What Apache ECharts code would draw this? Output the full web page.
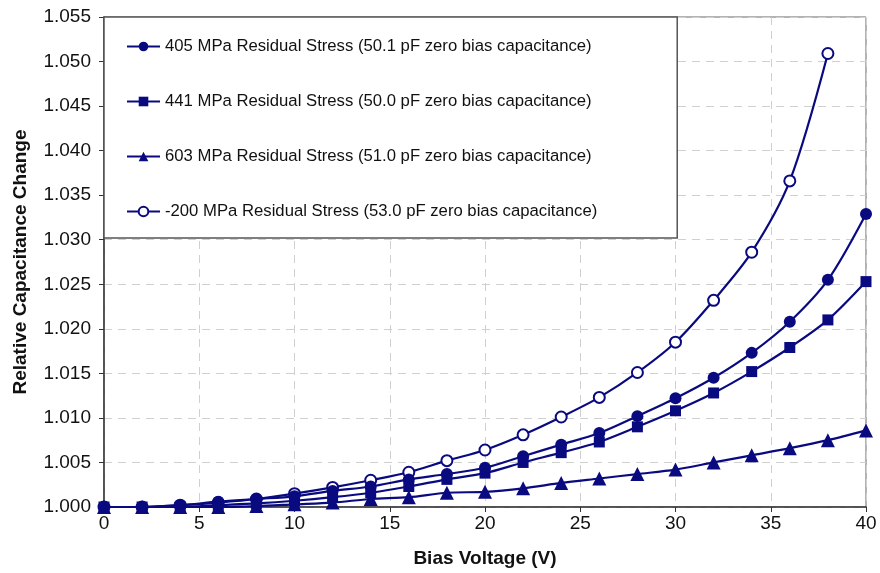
<!DOCTYPE html>
<html>
<head>
<meta charset="utf-8">
<script src="https://cdn.jsdelivr.net/npm/echarts@6/dist/echarts.min.js"></script>
<style>
  html, body { margin: 0; padding: 0; background: #fff; }
  #chart { width: 880px; height: 573px; }
</style>
</head>
<body>
<div id="chart"></div>
<script>
// bias voltage (V)
const voltage = [0, 2, 4, 6, 8, 10, 12, 14, 16, 18, 20, 22, 24, 26, 28, 30, 32, 34, 36, 38, 40]

// relative capacitance change per film
const s405 = [1.0000, 1.0000, 1.0002, 1.0006, 1.0009, 1.0012, 1.0018, 1.0023, 1.0031, 1.0037, 1.0044,
  1.0057, 1.0070, 1.0083, 1.0102, 1.0122, 1.0145, 1.0173, 1.0208, 1.0255, 1.0329]
const s441 = [1.0000, 1.0000, 1.0000, 1.0002, 1.0004, 1.0007, 1.0011, 1.0016, 1.0023, 1.0031, 1.0038,
  1.0050, 1.0061, 1.0073, 1.0090, 1.0108, 1.0128, 1.0152, 1.0179, 1.0210, 1.0253]
const s603 = [1.0000, 1.0000, 1.0000, 1.0000, 1.0001, 1.0003, 1.0005, 1.0009, 1.0011, 1.0016, 1.0017,
  1.0021, 1.0027, 1.0032, 1.0037, 1.0042, 1.0050, 1.0058, 1.0066, 1.0075, 1.0086]
const sNeg200 = [1.0000, 1.0000, 1.0002, 1.0005, 1.0009, 1.0015, 1.0022, 1.0030, 1.0039, 1.0052, 1.0064,
  1.0081, 1.0101, 1.0123, 1.0151, 1.0185, 1.0232, 1.0286, 1.0366, 1.0509]

const names = [
  '405 MPa Residual Stress (50.1 pF zero bias capacitance)',
  '441 MPa Residual Stress (50.0 pF zero bias capacitance)',
  '603 MPa Residual Stress (51.0 pF zero bias capacitance)',
  '-200 MPa Residual Stress (53.0 pF zero bias capacitance)'
]

const navy = '#0a0a80'
const font = '"Liberation Sans", Arial, sans-serif'

const pairs = (ys) => ys.map((y, i) => [voltage[i], y])

const mkSeries = (name, ys, symbol, size, z) => ({
  name: name,
  type: 'line',
  data: pairs(ys),
  smooth: 0.3,
  symbol: symbol,
  symbolSize: size,
  z: z,
  lineStyle: { color: navy, width: 2.2 },
  itemStyle: { color: navy, borderWidth: 1.5 },
  emphasis: { disabled: true }
})

const chart = echarts.init(document.getElementById('chart'))

const option = {
  backgroundColor: '#fff',
  animation: false,
  textStyle: { fontFamily: font },
  grid: {
    left: 104,
    right: 14,
    top: 17,
    bottom: 65,
    show: true,
    borderColor: '#666',
    borderWidth: 1
  },
  legend: {
    orient: 'vertical',
    left: 104,
    top: 17,
    z: 10,
    padding: [21, 80, 18, 22],
    itemGap: 38,
    itemWidth: 33,
    itemHeight: 12,
    backgroundColor: '#fff',
    borderColor: '#555',
    borderWidth: 1.5,
    textStyle: { fontSize: 16.7, color: '#111', fontFamily: font },
    data: names
  },
  xAxis: {
    type: 'value',
    min: 0,
    max: 40,
    interval: 5,
    name: 'Bias Voltage (V)',
    nameLocation: 'middle',
    nameGap: 42,
    nameTextStyle: { fontSize: 19, fontWeight: 'bold', color: '#111', fontFamily: font },
    axisLine: { lineStyle: { color: '#333', width: 1.5 } },
    axisTick: { show: true, length: 5, lineStyle: { color: '#333' } },
    axisLabel: { fontSize: 19, color: '#111', margin: 7 },
    splitLine: { show: true, lineStyle: { color: '#d0d0d0', type: [8, 6], width: 1 } }
  },
  yAxis: {
    type: 'value',
    min: 1,
    max: 1.055,
    interval: 0.005,
    name: 'Relative Capacitance Change',
    nameLocation: 'middle',
    nameGap: 74,
    nameTextStyle: { fontSize: 19, fontWeight: 'bold', color: '#111', fontFamily: font },
    axisLine: { show: true, lineStyle: { color: '#333', width: 1.5 } },
    axisTick: { show: true, length: 5, lineStyle: { color: '#333' } },
    axisLabel: { fontSize: 19, color: '#111', margin: 13, formatter: (v) => v.toFixed(3) },
    splitLine: { show: true, lineStyle: { color: '#d0d0d0', type: [8, 6], width: 1 } }
  },
  series: [
    mkSeries(names[0], s405, 'circle', 12, 4),
    mkSeries(names[1], s441, 'rect', 11, 5),
    mkSeries(names[2], s603, 'triangle', 14, 3),
    mkSeries(names[3], sNeg200, 'emptyCircle', 11, 2)
  ]
}

chart.setOption(option)
</script>
</body>
</html>
